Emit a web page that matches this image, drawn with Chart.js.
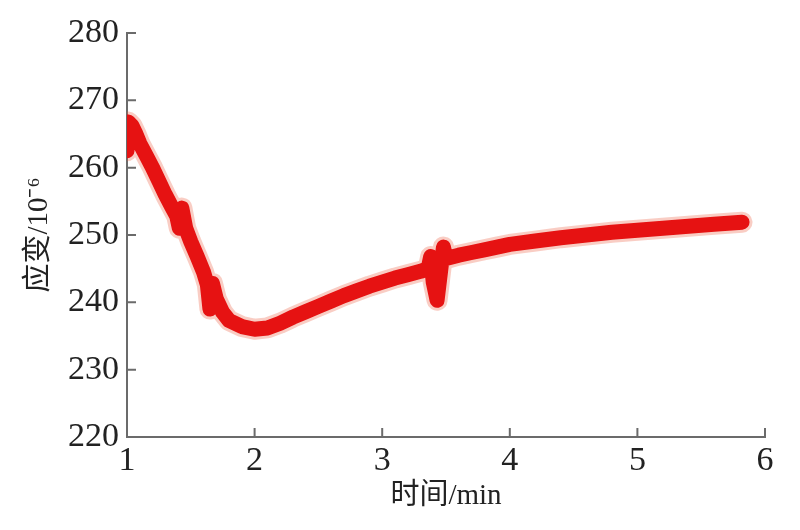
<!DOCTYPE html>
<html>
<head>
<meta charset="utf-8">
<script src="https://cdn.jsdelivr.net/npm/chart.js@4/dist/chart.umd.min.js"></script>
<style>
  body { margin: 0; background: #fff; }
  #chart { display: block; }
</style>
</head>
<body>
<canvas id="chart" width="800" height="530"></canvas>
<script>
// time in minutes and strain (10^-6)
const timeMin = [1.00, 1.01, 1.04, 1.07, 1.10, 1.15, 1.20, 1.25, 1.30, 1.35, 1.39, 1.41, 1.43, 1.46, 1.50, 1.55, 1.60, 1.63, 1.65, 1.67, 1.70, 1.75, 1.80, 1.90, 2.00, 2.10, 2.20, 2.30, 2.40, 2.50, 2.60, 2.70, 2.80, 2.90, 3.00, 3.10, 3.20, 3.30, 3.36, 3.38, 3.40, 3.43, 3.46, 3.48, 3.50, 3.60, 3.70, 3.80, 3.90, 4.00, 4.20, 4.40, 4.60, 4.80, 5.00, 5.20, 5.40, 5.60, 5.82];
const strain = [262.5, 266.8, 266.2, 265.0, 263.6, 261.8, 260.0, 258.0, 256.0, 254.2, 252.8, 251.0, 254.0, 251.0, 249.0, 246.8, 244.5, 242.6, 239.0, 242.8, 240.5, 238.5, 237.3, 236.4, 236.0, 236.2, 236.9, 237.8, 238.6, 239.4, 240.2, 241.0, 241.7, 242.4, 243.0, 243.6, 244.1, 244.6, 245.0, 246.8, 243.0, 240.3, 245.0, 248.2, 246.5, 247.0, 247.4, 247.8, 248.2, 248.6, 249.1, 249.6, 250.0, 250.4, 250.7, 251.0, 251.3, 251.6, 251.9];

const xTicks = [1, 2, 3, 4, 5, 6];
const yTicks = [220, 230, 240, 250, 260, 270, 280];

const axisColor = '#6b6b6b';
const tickFont = { family: 'Liberation Serif', size: 34 };
const titleFont = { family: "'Liberation Serif', 'Noto Sans CJK SC'", size: 29 };

// ticks point into the plot area
const innerTicks = {
  id: 'innerTicks',
  afterDraw(chart) {
    const ctx = chart.ctx;
    const x = chart.scales.x, y = chart.scales.y;
    const area = chart.chartArea;
    ctx.save();
    ctx.strokeStyle = axisColor;
    ctx.lineWidth = 2;
    ctx.beginPath();
    xTicks.forEach(v => {
      const px = x.getPixelForValue(v);
      ctx.moveTo(px, area.bottom);
      ctx.lineTo(px, area.bottom - 9);
    });
    yTicks.forEach(v => {
      const py = y.getPixelForValue(v);
      ctx.moveTo(area.left, py);
      ctx.lineTo(area.left + 9, py);
    });
    ctx.stroke();
    ctx.restore();
  }
};

const points = timeMin.map((t, i) => ({ x: t, y: strain[i] }));

new Chart(document.getElementById('chart'), {
  type: 'line',
  data: {
    datasets: [{
      data: points,
      borderColor: 'rgb(230, 18, 18)',
      borderWidth: 15,
      borderJoinStyle: 'round',
      borderCapStyle: 'round',
      pointRadius: 0,
      tension: 0,
      fill: false
    }, {
      // soft fringe round the band
      data: points,
      borderColor: 'rgba(236, 90, 60, 0.3)',
      borderWidth: 21,
      borderJoinStyle: 'round',
      borderCapStyle: 'round',
      pointRadius: 0,
      tension: 0,
      fill: false
    }]
  },
  options: {
    responsive: false,
    animation: false,
    layout: { padding: { top: 33, right: 35, left: 0, bottom: 0 } },
    plugins: {
      legend: { display: false },
      tooltip: { enabled: false }
    },
    scales: {
      x: {
        type: 'linear',
        min: 1,
        max: 6,
        afterBuildTicks: s => { s.ticks = xTicks.map(v => ({ value: v })); },
        afterFit: s => { s.height = 93; },
        grid: { display: false, drawTicks: false },
        border: { display: true, color: axisColor, width: 2 },
        ticks: { font: tickFont, color: '#222', padding: 4, maxRotation: 0 },
        title: {
          display: true,
          text: '时间/min',
          font: titleFont,
          color: '#222',
          padding: { top: 0, bottom: 16 }
        }
      },
      y: {
        min: 220,
        max: 280,
        afterBuildTicks: s => { s.ticks = yTicks.map(v => ({ value: v })); },
        afterFit: s => { s.width = 127; },
        grid: { display: false, drawTicks: false },
        border: { display: true, color: axisColor, width: 2 },
        ticks: { font: tickFont, color: '#222', padding: 8 },
        title: {
          display: true,
          text: '应变/10⁻⁶',
          font: titleFont,
          color: '#222',
          padding: { top: 22, bottom: 0 }
        }
      }
    }
  },
  plugins: [innerTicks]
});
</script>
</body>
</html>
